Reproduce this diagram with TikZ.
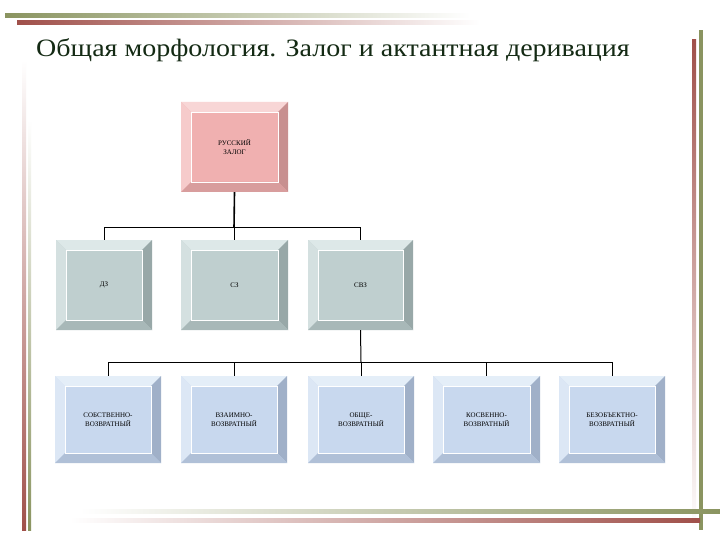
\documentclass[tikz,border=0pt]{standalone}
\usepackage{fontspec}
\setmainfont{Liberation Serif}
\definecolor{barg}{HTML}{8A9460}
\definecolor{barb}{HTML}{A0504A}
\definecolor{ttl}{HTML}{142A14}
\definecolor{pkF}{HTML}{F0B0B0}\definecolor{pkL}{HTML}{F8D6D6}\definecolor{pkD}{HTML}{C89090}
\definecolor{grF}{HTML}{BFCFCF}\definecolor{grL}{HTML}{DDE8E8}\definecolor{grD}{HTML}{98A8A8}
\definecolor{blF}{HTML}{C8D8EE}\definecolor{blL}{HTML}{E4EEF8}\definecolor{blD}{HTML}{A0B0C8}
\newcommand{\bevbox}[7]{%
 \fill[#6F] (#2,#3) rectangle (#4,#5);
 \fill[#6L] (#2,#3) -- (#4,#3) -- ++(-10,10) -- (#2+10,#3+10) -- cycle;
 \fill[#6L!70!#6F] (#2,#3) -- (#2+10,#3+10) -- (#2+10,#5-10) -- (#2,#5) -- cycle;
 \fill[#6D] (#4,#3) -- (#4,#5) -- (#4-10,#5-10) -- (#4-10,#3+10) -- cycle;
 \fill[#6D!60!#6F] (#2,#5) -- (#4,#5) -- (#4-10,#5-10) -- (#2+10,#5-10) -- cycle;
 \draw[white,line width=0.6pt] (#2+10,#3+10) rectangle (#4-10,#5-10);
 \node[boxtxt] (#1) at ({(#2+#4)/2},{(#3+#5)/2}) [minimum width={#4-#2},minimum height={#5-#3}] {#7};
}
\tikzset{boxtxt/.style={font=\fontsize{7}{9}\selectfont,align=center,inner sep=0pt,text=black},
 conn/.style={black,line width=1pt}}
\begin{document}
\begin{tikzpicture}[x=1pt,y=-1pt]
\useasboundingbox (0,0) rectangle (720,540);
\fill[white] (0,0) rectangle (720,540);
\shade[left color=barg,right color=white] (5,14) rectangle (470,18);
\shade[left color=barb,right color=white] (17,21) rectangle (480,25);
\fill[barg] (699,30) rectangle (703,530);
\shade[top color=barb,bottom color=white] (692,40) rectangle (696,530);
\shade[top color=white,bottom color=barb] (22,60) rectangle (26,530);
\shade[top color=white,bottom color=barg] (28,120) rectangle (31,530);
\shade[left color=white,right color=barg] (80,509) rectangle (720,513);
\shade[left color=white,right color=barb] (70,518) rectangle (700,522);
\node[anchor=west,text=ttl,font=\fontsize{25}{28}\selectfont,xscale=1.12,inner sep=0pt] (title) at (36,50) {Общая морфология. Залог и актантная деривация};
\bevbox{root}{181}{102}{288}{192}{pk}{РУССКИЙ\\ЗАЛОГ}
\bevbox{dz}{56}{240}{152}{330}{gr}{ДЗ}
\bevbox{sz}{181}{240}{288}{330}{gr}{СЗ}
\bevbox{svz}{308}{240}{413}{330}{gr}{СВЗ}
\bevbox{b1}{55}{376}{161}{463}{bl}{СОБСТВЕННО-\\ВОЗВРАТНЫЙ}
\bevbox{b2}{181}{376}{287}{463}{bl}{ВЗАИМНО-\\ВОЗВРАТНЫЙ}
\bevbox{b3}{308}{376}{414}{463}{bl}{ОБЩЕ-\\ВОЗВРАТНЫЙ}
\bevbox{b4}{433}{376}{540}{463}{bl}{КОСВЕННО-\\ВОЗВРАТНЫЙ}
\bevbox{b5}{559}{376}{665}{463}{bl}{БЕЗОБЪЕКТНО-\\ВОЗВРАТНЫЙ}
\coordinate (bus1) at (234,228);
\draw[conn,line width=1.6pt] (root.south) -- (bus1);
\foreach \n in {dz,sz,svz} \draw[conn] (bus1) -| (\n.north);
\coordinate (bus2) at (361,362);
\draw[conn] (svz.south) -- (bus2);
\foreach \n in {b1,b2,b3,b4,b5} \draw[conn] (bus2) -| (\n.north);
\end{tikzpicture}
\end{document}
